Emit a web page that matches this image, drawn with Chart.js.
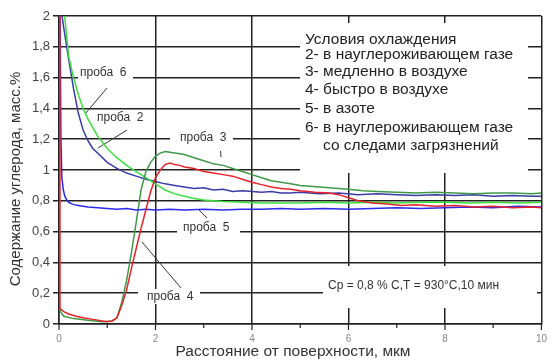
<!DOCTYPE html>
<html><head><meta charset="utf-8">
<script src="https://cdn.jsdelivr.net/npm/chart.js@4/dist/chart.umd.min.js"></script>
<style>html,body{margin:0;padding:0;background:#fff}#wrap{width:556px;height:360px}</style>
</head><body><div id="wrap"><canvas id="c" width="556" height="360"></canvas></div>
<script>
// Probe 2 — в науглероживающем газе
const x2 = [0.04,0.1,0.15,0.2,0.3,0.4,0.5,0.6,0.7,0.8,1.0,1.2,1.4,1.6,1.8,2.0,2.2,2.4,2.6,2.8,3.0,3.2,3.4,3.6,3.8,4.0,4.2,4.4,4.6,4.8,5.0,5.4,5.8,6.2,6.6,7.0,7.4,7.8,8.2,8.6,9.0,9.4,9.8,10];
const y2 = [2.05,1.92,1.82,1.72,1.53,1.37,1.26,1.19,1.14,1.11,1.05,1.01,0.98,0.96,0.94,0.925,0.91,0.9,0.89,0.88,0.885,0.87,0.875,0.86,0.865,0.86,0.855,0.86,0.85,0.85,0.855,0.845,0.85,0.84,0.845,0.84,0.835,0.84,0.835,0.84,0.83,0.835,0.83,0.83];
// Probe 3 — медленно в воздухе
const x3 = [0,0.03,0.1,0.3,0.6,0.9,1.1,1.2,1.3,1.4,1.5,1.6,1.7,1.8,1.9,2.0,2.1,2.2,2.3,2.4,2.6,2.8,3.0,3.2,3.4,3.6,3.8,4.0,4.2,4.4,4.6,4.8,5.0,5.2,5.4,5.6,5.8,6.0,6.3,6.6,7.0,7.4,7.8,8.2,8.6,9.0,9.4,9.8,10];
const y3 = [0.12,0.08,0.05,0.035,0.025,0.015,0.02,0.04,0.14,0.28,0.46,0.66,0.87,0.99,1.05,1.09,1.11,1.12,1.115,1.11,1.10,1.08,1.06,1.04,1.03,1.01,0.99,0.97,0.95,0.93,0.92,0.91,0.9,0.895,0.89,0.885,0.88,0.875,0.865,0.86,0.855,0.85,0.855,0.85,0.845,0.85,0.85,0.845,0.85];
// Probe 4 — быстро в воздухе
const x4 = [0,0.02,0.1,0.2,0.35,0.5,0.7,0.9,1.0,1.1,1.2,1.3,1.4,1.5,1.6,1.7,1.8,1.9,2.0,2.1,2.2,2.3,2.4,2.5,2.6,2.8,3.0,3.2,3.4,3.6,3.8,4.0,4.2,4.4,4.6,4.8,5.0,5.3,5.6,5.8,6.0,6.2,6.5,6.8,7.1,7.4,7.8,8.2,8.6,9.0,9.4,9.8,10];
const y4 = [2.05,0.1,0.08,0.065,0.05,0.04,0.03,0.02,0.015,0.02,0.04,0.12,0.22,0.36,0.49,0.62,0.74,0.86,0.95,1.0,1.035,1.045,1.035,1.03,1.02,1.01,0.99,0.98,0.97,0.96,0.94,0.92,0.905,0.89,0.88,0.875,0.865,0.855,0.85,0.84,0.82,0.80,0.785,0.78,0.77,0.775,0.765,0.77,0.76,0.765,0.755,0.76,0.755];
// Probe 5 — в азоте
const x5 = [0.02,0.04,0.06,0.09,0.12,0.16,0.2,0.3,0.4,0.6,0.8,1.0,1.2,1.4,1.6,1.8,2.0,2.3,2.6,3.0,3.4,3.8,4.2,4.6,5.0,5.5,6,6.5,7,7.5,8,8.5,9,9.5,10];
const y5 = [2.05,1.2,0.95,0.87,0.83,0.805,0.79,0.775,0.77,0.76,0.755,0.75,0.745,0.75,0.74,0.745,0.74,0.745,0.74,0.745,0.74,0.745,0.745,0.75,0.745,0.75,0.745,0.75,0.755,0.75,0.755,0.76,0.755,0.765,0.76];
// Probe 6 — в науглероживающем газе со следами загрязнений
const x6 = [0.1,0.15,0.2,0.3,0.4,0.5,0.6,0.8,1.0,1.2,1.4,1.6,1.8,2.0,2.2,2.4,2.6,2.8,3.0,3.4,3.8,4.2,4.6,5.0,5.5,6,6.5,7,7.5,8,8.5,9,9.5,10];
const y6 = [2.05,1.9,1.74,1.6,1.49,1.4,1.33,1.22,1.14,1.08,1.03,0.99,0.95,0.91,0.87,0.845,0.83,0.815,0.805,0.795,0.79,0.785,0.785,0.785,0.79,0.785,0.79,0.785,0.79,0.79,0.785,0.79,0.785,0.79];

const xTickLabels = ['0','2','4','6','8','10'];
const legendLines = ['Условия охлаждения','2- в науглероживающем газе','3- медленно в воздухе','4- быстро в воздухе','5- в азоте','6- в науглероживающем газе','со следами загрязнений'];
const probeLabels = ['проба  6','проба  2','проба  3','проба  5','проба  4'];
const noteText = 'Cp = 0,8 % C,T = 930°C,10 мин';
const xTitle = 'Расстояние от поверхности, мкм';
const yTitle = 'Содержание углерода, масс.%';

const pts = (xs, ys) => xs.map((x, i) => ({x, y: ys[i]}));
const FONT = '"Liberation Sans", Arial, sans-serif';

const overlay = {
  id: 'overlay',
  beforeDatasetsDraw(chart) {
    const ctx = chart.ctx, xs = chart.scales.x, ys = chart.scales.y;
    ctx.save();
    ctx.fillStyle = '#fff';
    // legend box
    ctx.fillRect(300, 23, 228, 150);
    // note box
    ctx.fillRect(323, 266, 214, 42);
    // label boxes
    const boxes = [[78,66,55,15],[96,110,57,15],[170,131,63,15],[177,221,63,15],[138,289,62,15]];
    boxes.forEach(b => ctx.fillRect(b[0], b[1], b[2], b[3]));
    ctx.fillStyle = '#222';
    ctx.textBaseline = 'middle';
    ctx.textAlign = 'left';
    ctx.font = '15.5px ' + FONT;
    const ly = [40, 54.5, 72, 90, 109, 128, 146];
    legendLines.forEach((t, i) => ctx.fillText(t, i === 6 ? 323 : 305, ly[i]));
    ctx.font = '12px ' + FONT;
    ctx.fillStyle = '#333';
    const lp = [[80,73],[97,117.5],[180,138],[183,228],[147,297]];
    probeLabels.forEach((t, i) => ctx.fillText(t, lp[i][0], lp[i][1]));
    ctx.font = '12px ' + FONT;
    ctx.fillText(noteText, 328, 286);
    // leaders
    ctx.strokeStyle = '#333';
    ctx.lineWidth = 1;
    const ld = [[107,88,85,114],[127,130,98,148],[220.5,151,221,157],[199,210,207,218],[142,242,181,288]];
    ld.forEach(l => { ctx.beginPath(); ctx.moveTo(l[0], l[1]); ctx.lineTo(l[2], l[3]); ctx.stroke(); });
    // x tick marks
    ctx.strokeStyle = '#222';
    ctx.lineWidth = 1.2;
    for (let v = 0; v <= 10; v++) {
      const px = xs.getPixelForValue(v);
      const len = v % 2 === 0 ? 6 : 4;
      ctx.beginPath(); ctx.moveTo(px, ys.bottom); ctx.lineTo(px, ys.bottom + len); ctx.stroke();
    }
    // titles
    ctx.fillStyle = '#333';
    ctx.font = '15.5px ' + FONT;
    ctx.textAlign = 'center';
    ctx.fillText(xTitle, 293, 352);
    ctx.font = '15px ' + FONT;
    ctx.translate(16, 179);
    ctx.rotate(-Math.PI / 2);
    ctx.fillText(yTitle, 0, 0);
    ctx.restore();
  }
};

const ds = (label, xs, ys, color) => ({label, data: pts(xs, ys), borderColor: color, borderWidth: 1.5, pointRadius: 0, tension: 0, fill: false});

new Chart(document.getElementById('c'), {
  type: 'line',
  data: {
    datasets: [
      ds('проба 4', x4, y4, '#e8222a'),
      ds('проба 5', x5, y5, '#2a2aee'),
      ds('проба 3', x3, y3, '#3f9a48'),
      ds('проба 6', x6, y6, '#3ae03a'),
      ds('проба 2', x2, y2, '#3b3ba6')
    ]
  },
  options: {
    responsive: false,
    animation: false,
    layout: {padding: {top: 16, right: 7, left: 0, bottom: 0}},
    plugins: {legend: {display: false}, tooltip: {enabled: false}},
    scales: {
      x: {
        type: 'linear', min: 0, max: 10,
        afterFit(s) { s.height = 36; },
        border: {display: true, color: '#222', width: 1.5},
        grid: {
          drawTicks: false,
          lineWidth: 1.5,
          color: c => (c.tick && c.tick.value % 2 === 0) ? '#222' : 'rgba(0,0,0,0)'
        },
        ticks: {
          stepSize: 1, autoSkip: false, maxRotation: 0, padding: 9,
          color: '#888', font: {size: 10, family: FONT},
          callback: v => (v % 2 === 0) ? xTickLabels[v / 2] : ''
        }
      },
      y: {
        min: 0, max: 2,
        afterFit(s) { s.width = 59; },
        border: {display: true, color: '#222', width: 1.5},
        grid: {color: '#222', lineWidth: 1.5, tickLength: 6},
        ticks: {
          stepSize: 0.2, padding: 3, color: '#444', font: {size: 13, family: FONT},
          callback: v => String(Math.round(v * 10) / 10).replace('.', ',')
        }
      }
    }
  },
  plugins: [overlay]
});
</script></body></html>
